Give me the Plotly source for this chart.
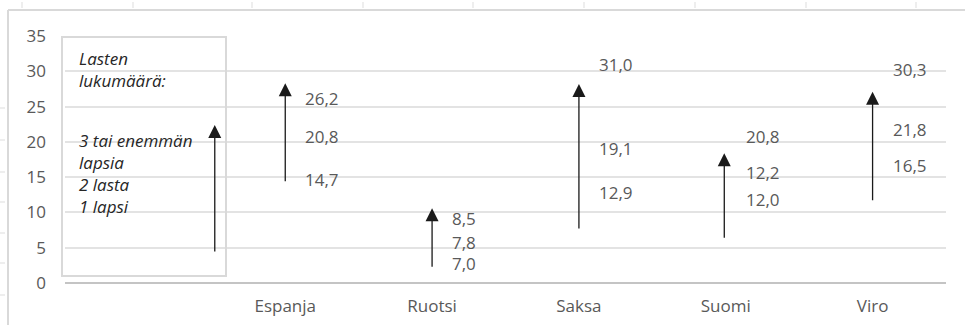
import plotly.graph_objects as go

# ---------------- data ----------------
categories = ["", "Espanja", "Ruotsi", "Saksa", "Suomi", "Viro"]
countries = ["Espanja", "Ruotsi", "Saksa", "Suomi", "Viro"]
one_child = [14.7, 7.0, 12.9, 12.0, 16.5]
two_children = [20.8, 7.8, 19.1, 12.2, 21.8]
three_plus = [26.2, 8.5, 31.0, 20.8, 30.3]
# label placement (value scale) used in the original so labels do not collide
label_y_one = [14.6, 2.7, 12.8, 11.8, 16.6]
label_y_two = [20.7, 5.7, 19.0, 15.6, 21.8]
label_y_three = [26.1, 9.2, 30.9, 20.7, 30.3]
# hand-drawn arrows (x position in category units, tail / tip on value scale)
arrow_x = [0.52, 1, 2, 3, 3.99, 5]
arrow_from = [4.25, 14.2, 2.1, 7.5, 6.2, 11.5]
arrow_to = [22.4, 28.3, 10.6, 28.2, 18.4, 27.1]
y_ticks = [0, 5, 10, 15, 20, 25, 30, 35]
legend_title = "Lasten<br>lukumäärä:"
legend_items = "3 tai enemmän<br>lapsia<br>2 lasta<br>1 lapsi"

W, H = 965, 325
ML, MR, MT, MB = 65, 19, 36, 42
PW, PH = W - ML - MR, H - MT - MB

def px_x(p):
    return (p - ML) / PW

def px_y(p):
    return (H - MB - p) / PH

FONT = "Open Sans"
GRAY = "#595959"

fig = go.Figure()
# invisible trace to establish the category axis
fig.add_trace(go.Scatter(x=list(range(len(categories))), y=[None] * len(categories),
                         mode="markers", showlegend=False, hoverinfo="skip"))

annotations = []
for i, c in enumerate(countries):
    xi = categories.index(c)
    for val, ly in ((one_child[i], label_y_one[i]), (two_children[i], label_y_two[i]),
                    (three_plus[i], label_y_three[i])):
        annotations.append(dict(
            x=xi, y=ly, xref="x", yref="y", text=f"{val:.1f}".replace(".", ","),
            showarrow=False, xanchor="left", yanchor="middle", xshift=18,
            font=dict(family=FONT, size=17, color=GRAY)))

for ax_, a0, a1 in zip(arrow_x, arrow_from, arrow_to):
    annotations.append(dict(
        x=ax_, y=a1, ax=ax_, ay=a0, xref="x", yref="y", axref="x", ayref="y",
        text="", showarrow=True, arrowhead=2, arrowsize=2.0, arrowwidth=1.3,
        arrowcolor="#1a1a1a", standoff=0))

annotations.append(dict(x=-0.415, y=33.7, xref="x", yref="y", text=legend_title,
                        showarrow=False, xanchor="left", yanchor="top", align="left",
                        font=dict(family=FONT, size=17, color="#262626", style="italic")))
annotations.append(dict(x=-0.415, y=22.1, xref="x", yref="y", text=legend_items,
                        showarrow=False, xanchor="left", yanchor="top", align="left",
                        font=dict(family=FONT, size=17, color="#262626", style="italic")))

shapes = []
# legend box
shapes.append(dict(type="rect", xref="paper", yref="paper",
                   x0=px_x(62), x1=px_x(226), y0=px_y(276), y1=px_y(37),
                   line=dict(color="#d9d9d9", width=2), fillcolor="rgba(0,0,0,0)"))
# outer frame (top and left)
shapes.append(dict(type="line", xref="paper", yref="paper", x0=px_x(8), x1=px_x(965),
                   y0=px_y(10), y1=px_y(10), line=dict(color="#d9d9d9", width=2)))
shapes.append(dict(type="line", xref="paper", yref="paper", x0=px_x(8), x1=px_x(8),
                   y0=px_y(10), y1=px_y(325), line=dict(color="#d9d9d9", width=2)))
for tx in [22, 133, 252, 363, 473, 584, 695, 806, 916]:
    shapes.append(dict(type="line", xref="paper", yref="paper", x0=px_x(tx), x1=px_x(tx),
                       y0=px_y(2), y1=px_y(8), line=dict(color="#dddddd", width=1)))
for ty in [108, 140, 172, 202, 233, 263, 295]:
    shapes.append(dict(type="line", xref="paper", yref="paper", x0=px_x(0), x1=px_x(5),
                       y0=px_y(ty), y1=px_y(ty), line=dict(color="#dddddd", width=1)))

fig.update_layout(
    width=W, height=H, margin=dict(l=ML, r=MR, t=MT, b=MB, autoexpand=False),
    paper_bgcolor="white", plot_bgcolor="white", showlegend=False,
    font=dict(family=FONT, size=17, color=GRAY),
    xaxis=dict(tickmode="array", tickvals=list(range(len(categories))), ticktext=categories,
               range=[-0.5, len(categories) - 0.5], showgrid=False, zeroline=False,
               showline=False, ticks="", ticklabelstandoff=11, automargin=False,
               tickfont=dict(family=FONT, size=17, color=GRAY), fixedrange=True),
    yaxis=dict(range=[0, 35], tickvals=y_ticks, showgrid=True, gridcolor="#e3e3e3",
               gridwidth=1.5, zeroline=True, zerolinecolor="#c4c4c4", zerolinewidth=2,
               showline=False, ticks="", ticklabelstandoff=18, automargin=False,
               tickfont=dict(family=FONT, size=17, color=GRAY), fixedrange=True),
    annotations=annotations, shapes=shapes,
)

fig.write_html("out.html")
